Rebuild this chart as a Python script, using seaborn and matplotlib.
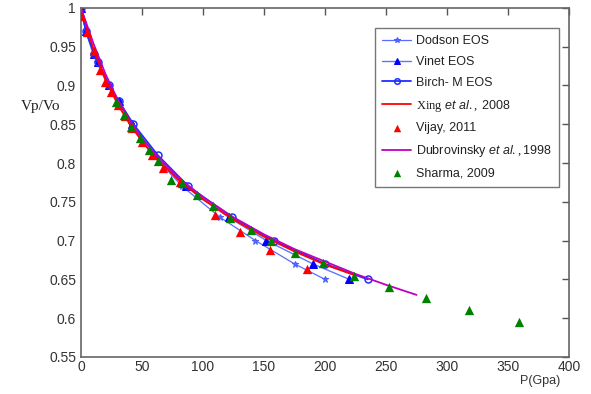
import matplotlib
matplotlib.use("Agg")
import matplotlib.pyplot as plt
import seaborn as sns
import pandas as pd

# ---- data ----
eos_v = [1.0, 0.97, 0.94, 0.93, 0.90, 0.88, 0.85, 0.81, 0.77, 0.73, 0.70, 0.67, 0.65]
dodson_p = [0, 4, 10, 13, 22, 30, 41, 59, 83, 114, 143, 175, 200]
vinet_p = [0, 4, 11, 14, 23, 31, 42, 61, 86, 121, 152, 190, 220]
birch_p = [0, 4, 11, 14, 23, 31, 43, 63, 88, 124, 158, 200, 235]

xing_p = [0, 10, 20, 30, 40, 50, 60, 80, 100, 125, 150, 175, 200, 225]
xing_v = [1.0, 0.948, 0.908, 0.876, 0.850, 0.828, 0.809, 0.778, 0.753, 0.727, 0.705, 0.686, 0.669, 0.655]

vijay_p = [0, 5, 11, 16, 20, 25, 30, 36, 42, 50, 58, 67, 81, 110, 130, 155, 185]
vijay_v = [0.989, 0.969, 0.944, 0.920, 0.905, 0.892, 0.875, 0.860, 0.845, 0.827, 0.810, 0.793, 0.776, 0.733, 0.711, 0.688, 0.663]

dub_p = [0, 10, 20, 30, 40, 50, 60, 80, 100, 125, 150, 175, 200, 225, 250, 275]
dub_v = [1.0, 0.955, 0.915, 0.882, 0.855, 0.832, 0.813, 0.781, 0.756, 0.730, 0.708, 0.689, 0.673, 0.657, 0.643, 0.630]

sharma_p = [29, 35, 41, 48, 56, 63, 74, 83, 95, 108, 122, 139, 156, 175, 198, 224, 252, 283, 318, 359]
sharma_v = [0.879, 0.862, 0.847, 0.832, 0.817, 0.802, 0.778, 0.774, 0.759, 0.744, 0.729, 0.714, 0.699, 0.684,
            0.671, 0.654, 0.640, 0.626, 0.611, 0.595]

x_ticks = [0, 50, 100, 150, 200, 250, 300, 350, 400]
y_ticks = [0.55, 0.6, 0.65, 0.7, 0.75, 0.8, 0.85, 0.9, 0.95, 1.0]
y_ticklabels = ["0.55", "0.6", "0.65", "0.7", "0.75", "0.8", "0.85", "0.9", "0.95", "1"]

sns.set_style("white")
plt.rcParams["font.family"] = ["Liberation Sans", "DejaVu Sans"]
plt.rcParams["mathtext.fontset"] = "custom"
plt.rcParams["mathtext.it"] = "Liberation Sans:italic"
plt.rcParams["mathtext.rm"] = "Liberation Serif"

fig = plt.figure(figsize=(5.91, 3.94), dpi=100)
ax = fig.add_axes([0.137, 0.094, 0.826, 0.886])

sns.lineplot(x=dodson_p, y=eos_v, ax=ax, sort=False, estimator=None, color="#5a6cff", lw=0.9,
             marker="*", markersize=5, markeredgecolor="#4a5cff", label="Dodson EOS")
sns.lineplot(x=vinet_p, y=eos_v, ax=ax, sort=False, estimator=None, color="#5a78ff", lw=1.0,
             marker="^", markersize=6, markerfacecolor="#0000ff", markeredgecolor="#0000ff", label="Vinet EOS")
sns.lineplot(x=birch_p, y=eos_v, ax=ax, sort=False, estimator=None, color="#1f2fff", lw=1.3,
             marker="o", markersize=5, markerfacecolor="none", markeredgecolor="#1f2fff",
             markeredgewidth=1.1, label="Birch- M EOS")
sns.lineplot(x=xing_p, y=xing_v, ax=ax, sort=False, estimator=None, color="#ff0000", lw=1.3,
             label="$\\mathrm{Xing}$ $\\mathit{et\\ al.,}$ 2008")
sns.scatterplot(x=vijay_p, y=vijay_v, ax=ax, marker="^", color="#ff0000", s=45, linewidth=0,
                label="Vijay, 2011", zorder=4)
sns.lineplot(x=dub_p, y=dub_v, ax=ax, sort=False, estimator=None, color="#c000c0", lw=1.3,
             label="Dubrovinsky $\\mathit{et\\ al.,}$1998")
sns.scatterplot(x=sharma_p, y=sharma_v, ax=ax, marker="^", color="#008000", s=45, linewidth=0,
                label="Sharma, 2009", zorder=4)

ax.set_xlim(0, 400)
ax.set_ylim(0.55, 1.0)
ax.set_xticks(x_ticks)
ax.set_yticks(y_ticks)
ax.set_yticklabels(y_ticklabels)
ax.tick_params(direction="in", top=True, right=True, length=5, width=1, colors="#555555",
               labelcolor="#333333", labelsize=10)
ax.tick_params(axis="x", pad=2)
for s in ax.spines.values():
    s.set_color("#666666")
    s.set_linewidth(1.2)

ax.set_xlabel("")
ax.set_ylabel("")
fig.text(0.035, 0.72, "Vp/Vo", fontsize=11, family="Liberation Serif", color="#222222")
fig.text(0.88, 0.025, "P(Gpa)", fontsize=9, color="#333333")

leg = ax.legend(loc="upper left", bbox_to_anchor=(0.602, 0.943), borderaxespad=0, frameon=True,
                fancybox=False, edgecolor="#555555", fontsize=9, handlelength=2.3, labelspacing=0.7,
                borderpad=0.6, handletextpad=0.4, markerscale=0.8)
leg.get_frame().set_linewidth(1.0)
for t in leg.get_texts():
    t.set_color("#222222")

fig.savefig("out.png", dpi=100, facecolor="white")
